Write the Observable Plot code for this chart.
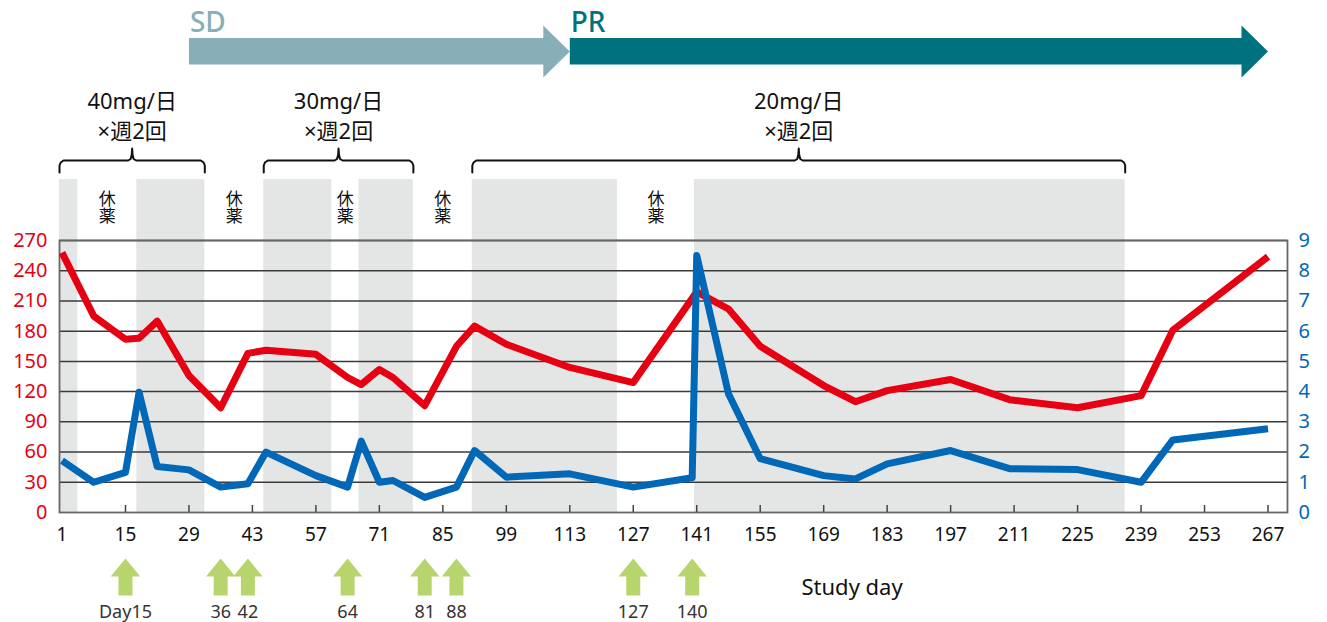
<!DOCTYPE html>
<html>
<head>
<meta charset="utf-8">
<script src="https://cdn.jsdelivr.net/npm/d3@7"></script>
<script src="https://cdn.jsdelivr.net/npm/@observablehq/plot@0.6"></script>
<style>
  html, body { margin: 0; padding: 0; background: #fff; }
  #chart svg { display: block; overflow: visible; }
</style>
</head>
<body>
<div id="chart"></div>
<script>
// ---------- data ----------
const tickDays = [1, 15, 29, 43, 57, 71, 85, 99, 113, 127, 141, 155, 169, 183, 197, 211, 225, 239, 253, 267];
const leftTicks = [0, 30, 60, 90, 120, 150, 180, 210, 240, 270];
const rightTicks = [0, 1, 2, 3, 4, 5, 6, 7, 8, 9];

const redDays   = [1, 8, 15, 18, 22, 29, 36, 42, 46, 57, 64, 67, 71, 74, 81, 88, 92, 99, 113, 127, 141, 148, 155, 169, 176, 183, 197, 210, 225, 239, 246, 267];
const redValues = [258, 195, 172, 173, 190, 136, 104, 158, 161, 157, 134, 127, 142, 134, 106, 165, 185, 167, 144, 129, 219, 202, 165, 126, 110, 121, 132, 112, 104, 116, 181, 254];

const blueDays   = [1, 8, 15, 18, 22, 29, 36, 42, 46, 57, 64, 67, 71, 74, 81, 88, 92, 99, 113, 127, 140, 141, 148, 155, 169, 176, 183, 197, 210, 225, 239, 246, 267];
const blueValues = [1.72, 1.0, 1.33, 3.98, 1.52, 1.41, 0.84, 0.95, 2.0, 1.22, 0.84, 2.36, 1.0, 1.06, 0.5, 0.84, 2.05, 1.17, 1.28, 0.84, 1.15, 8.5, 3.93, 1.78, 1.22, 1.11, 1.61, 2.05, 1.45, 1.42, 1.0, 2.4, 2.77];

const shadeStarts = [0.45, 17.5, 45.5, 66.5, 91.5, 140.5];
const shadeEnds   = [4.5, 32.5, 60.5, 78.5, 123.5, 235.5];

const braceStarts = [0.45, 45.5, 91.5];
const braceEnds   = [32.5, 78.5, 235.5];
const doseLabels  = ["40mg/日\n×週2回", "30mg/日\n×週2回", "20mg/日\n×週2回"];

const restLabel = "休薬";
const restCenters = [11, 39, 63.5, 85, 132];

const phaseNames  = ["SD", "PR"];
const phaseStarts = [29, 113];
const phaseEnds   = [113, 267];
const phaseColors = ["#88aeb8", "#00717f"];

const doseDays   = [15, 36, 42, 64, 81, 88, 127, 140];
const doseTexts  = ["Day15", "36", "42", "64", "81", "88", "127", "140"];

// ---------- layout ----------
const W = 1327, H = 622, mL = 59, mR = 40, mT = 240, mB = 110;
const xDomain = [0.45, 271.3];
const yDomain = [0, 270];
const pxPerDay = (W - mL - mR) / (xDomain[1] - xDomain[0]);
const dx = px => px / pxPerDay;                                    // pixel width -> days
const yAt = py => (H - mB - py) * (yDomain[1] - yDomain[0]) / (H - mB - mT); // pixel row -> y units
const RIGHT_K = 270 / 9;

const RED = "#e60012", BLUE = "#0068b7", GREEN = "#b8d56d", SHADE = "#e4e6e5";
const JP = "'Noto Sans', 'Noto Sans CJK JP', sans-serif";

// ---------- tables ----------
const red  = redDays.map((d, i) => ({day: d, v: redValues[i]}));
const blue = blueDays.map((d, i) => ({day: d, v: blueValues[i] * RIGHT_K}));
const shades = shadeStarts.map((s, i) => ({s, e: shadeEnds[i]}));
const rests = restCenters.map(c => ({c}));
const doses = braceStarts.map((s, i) => ({s, e: braceEnds[i], label: doseLabels[i]}));

// brace polylines
const braces = [];
doses.forEach((b, i) => {
  const c = (b.s + b.e) / 2;
  const pts = [
    [b.s, 172], [b.s, 165], [b.s + dx(1.2), 162], [b.s + dx(4), 160],
    [c - dx(4), 160], [c - dx(1.5), 158.5], [c - dx(0.4), 154], [c, 148],
    [c + dx(0.4), 154], [c + dx(1.5), 158.5], [c + dx(4), 160],
    [b.e - dx(4), 160], [b.e - dx(1.2), 162], [b.e, 165], [b.e, 172]
  ];
  pts.forEach(([x, p]) => braces.push({id: i, x, y: yAt(p)}));
});

// phase block arrows
function blockArrow(x0, x1) {
  const xh = x1 - dx(26.5);
  const pts = [[x0, 37.5], [xh, 37.5], [xh, 25], [x1, 51], [xh, 77], [xh, 64], [x0, 64]];
  return pts.map(([x, p]) => ({x, y: yAt(p)}));
}
const phaseArrows = phaseNames.map((n, i) => blockArrow(phaseStarts[i], phaseEnds[i]));

// dosing (green) arrows
const greenArrows = [];
doseDays.forEach((c, i) => {
  const hw = dx(14.7), bw = dx(7);
  const pts = [[c - bw, 595], [c - bw, 576], [c - hw, 576], [c, 558], [c + hw, 576], [c + bw, 576], [c + bw, 595]];
  pts.forEach(([x, p]) => greenArrows.push({id: i, x, y: yAt(p)}));
});
const doseLabelData = doseDays.map((d, i) => ({d, t: doseTexts[i]}));

const chart = Plot.plot({
  width: W, height: H,
  marginLeft: mL, marginRight: mR, marginTop: mT, marginBottom: mB,
  x: {domain: xDomain},
  y: {domain: yDomain},
  style: {fontFamily: "'Noto Sans', sans-serif", background: "#fff", overflow: "visible"},
  marks: [
    // shaded dosing periods
    Plot.rect(shades, {x1: "s", x2: "e", y1: () => 0, y2: () => yAt(179), fill: SHADE}),
    // grid
    Plot.ruleY(leftTicks.slice(1), {stroke: "#3a3a3a", strokeWidth: 1.5}),
    Plot.frame({stroke: "#666", strokeWidth: 1.8}),
    Plot.ruleX(tickDays.slice(1), {y1: 0, y2: 7 * 270 / 272, stroke: "#444", strokeWidth: 1.5}),
    // axes
    Plot.axisX({ticks: tickDays, tickSize: 0, tickPadding: 15, fontSize: 19, label: null, color: "#111"}),
    Plot.axisY({anchor: "left", ticks: leftTicks, tickSize: 0, tickPadding: 12, fontSize: 20, label: null, color: RED}),
    Plot.axisY({anchor: "right", ticks: leftTicks, tickFormat: d => d / RIGHT_K, tickSize: 0, tickPadding: 11, fontSize: 20, label: null, color: BLUE}),
    // series
    Plot.line(red, {x: "day", y: "v", stroke: RED, strokeWidth: 7, strokeLinejoin: "round", strokeLinecap: "butt"}),
    Plot.line(blue, {x: "day", y: "v", stroke: BLUE, strokeWidth: 7, strokeLinejoin: "round", strokeLinecap: "butt"}),
    // rest labels (vertical writing applied below)
    Plot.text(rests, {x: "c", y: () => yAt(201), text: () => restLabel, fontSize: 17, fontFamily: "'Noto Sans CJK JP', sans-serif", fill: "#111"}),
    // braces + dose labels
    Plot.line(braces, {x: "x", y: "y", z: "id", stroke: "#111", strokeWidth: 2, curve: "linear"}),
    Plot.text(doses, {x: d => (d.s + d.e) / 2, y: () => yAt(114), text: "label", fontSize: 22, lineHeight: 1.33, fontFamily: JP, fill: "#111"}),
    // phase arrows
    ...phaseArrows.map((pts, i) => Plot.line(pts, {x: "x", y: "y", fill: phaseColors[i], stroke: "none"})),
    Plot.text(phaseNames, {x: (d, i) => phaseStarts[i], y: () => yAt(22.5), text: d => d, textAnchor: "start", dx: 1, fontSize: 28, fontWeight: 500, fill: (d, i) => phaseColors[i]}),
    // dosing arrows
    Plot.line(greenArrows, {x: "x", y: "y", z: "id", fill: GREEN, stroke: "none"}),
    Plot.text(doseLabelData, {x: "d", y: () => yAt(612), text: "t", fontSize: 18, fill: "#333"}),
    Plot.text(["Study day"], {x: () => xDomain[0] + dx(801 - mL), y: () => yAt(587), text: d => d, textAnchor: "start", fontSize: 22, fill: "#111"})
  ]
});
document.getElementById("chart").appendChild(chart);

// set the 休薬 labels in vertical writing mode (one text, stacked characters)
d3.select(chart).selectAll("text").filter(function () { return this.textContent === restLabel; })
  .attr("dy", null)
  .style("writing-mode", "vertical-rl")
  .style("text-orientation", "upright")
  .style("letter-spacing", "0px");
</script>
</body>
</html>
